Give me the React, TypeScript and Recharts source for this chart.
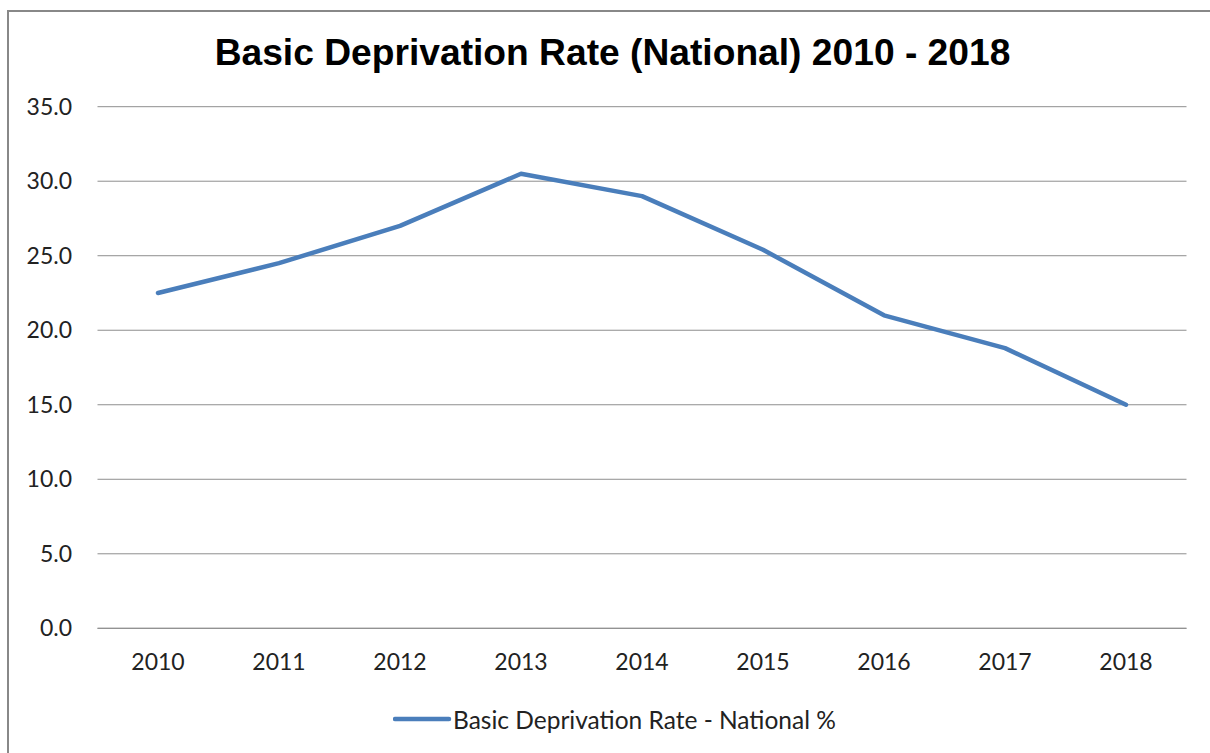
import React from "react";
import { LineChart, Line, XAxis, YAxis, CartesianGrid, Legend } from "recharts";

// Basic deprivation rate, national, by year (%)
const years = ["2010", "2011", "2012", "2013", "2014", "2015", "2016", "2017", "2018"];
const rates = [22.5, 24.5, 27.0, 30.5, 29.0, 25.4, 21.0, 18.8, 15.0];
const yTicks = [0, 5, 10, 15, 20, 25, 30, 35];

const seriesName = "Basic Deprivation Rate - National %";
const titleText = "Basic Deprivation Rate (National) 2010 - 2018";

const data = years.map((year, i) => ({ year, rate: rates[i] }));

const LINE_COLOR = "#4a7ebb";
const GRID_COLOR = "#8e8e8e";
const LABEL_FONT = "Lato, Carlito, Calibri, 'Open Sans', sans-serif";

const LegendContent = () => (
  <div
    style={{
      display: "flex",
      alignItems: "center",
      height: 30,
      fontFamily: LABEL_FONT,
      fontSize: 24.5,
      color: "#222",
      whiteSpace: "nowrap",
    }}
  >
    <svg width={60} height={30} style={{ display: "block" }}>
      <line x1={2} y1={15} x2={56} y2={15} stroke={LINE_COLOR} strokeWidth={4.5} strokeLinecap="round" />
    </svg>
    <span>{seriesName}</span>
  </div>
);

export default function App() {
  return (
    <div
      style={{
        position: "fixed",
        left: 0,
        top: 0,
        width: 1210,
        height: 753,
        overflow: "hidden",
        background: "#fff",
      }}
    >
      <div
        style={{
          position: "absolute",
          left: 7,
          top: 10,
          width: 1300,
          height: 900,
          border: "2px solid #888",
        }}
      />
      <div
        style={{
          position: "absolute",
          left: 0,
          top: 34,
          width: 1225,
          textAlign: "center",
          fontFamily: "'Liberation Sans', Arial, sans-serif",
          fontWeight: "bold",
          fontSize: 37.2,
          lineHeight: "37px",
          color: "#000",
          whiteSpace: "nowrap",
        }}
      >
        {titleText}
      </div>
      <div style={{ position: "absolute", left: 0, top: 0 }}>
        <LineChart
          width={1210}
          height={753}
          data={data}
          margin={{ top: 106.7, right: 23.5, bottom: 34.7, left: 0 }}
        >
          <CartesianGrid horizontal vertical={false} stroke={GRID_COLOR} strokeWidth={1} />
          <XAxis
            dataKey="year"
            height={60}
            padding={{ left: 60.5, right: 60.5 }}
            axisLine={{ stroke: GRID_COLOR }}
            tickLine={false}
            tickSize={0}
            tickMargin={25}
            tick={{ fontFamily: LABEL_FONT, fontSize: 23, fill: "#222" }}
          />
          <YAxis
            width={97.5}
            domain={[0, 35]}
            ticks={yTicks}
            interval={0}
            axisLine={false}
            tickLine={false}
            tickSize={0}
            tickMargin={25.5}
            tickFormatter={(v: number) => v.toFixed(1)}
            tick={{ fontFamily: LABEL_FONT, fontSize: 23, fill: "#222" }}
          />
          <Legend
            verticalAlign="bottom"
            content={<LegendContent />}
            wrapperStyle={{ position: "absolute", left: 393, top: 704, width: 500, height: 30 }}
          />
          <Line
            type="linear"
            dataKey="rate"
            name={seriesName}
            stroke={LINE_COLOR}
            strokeWidth={4.5}
            strokeLinecap="round"
            strokeLinejoin="round"
            dot={false}
            activeDot={false}
            isAnimationActive={false}
          />
        </LineChart>
      </div>
    </div>
  );
}
